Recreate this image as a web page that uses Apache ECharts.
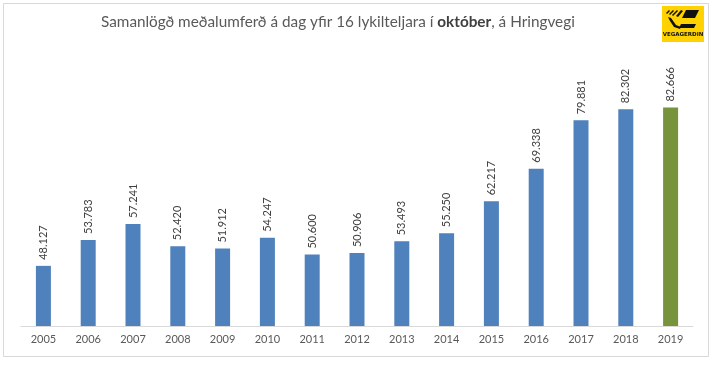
<!DOCTYPE html>
<html>
<head>
<meta charset="utf-8">
<script src="https://cdn.jsdelivr.net/npm/echarts@6/dist/echarts.min.js"></script>
<style>html,body{margin:0;padding:0;background:#fff;}#c{width:713px;height:366px;}</style>
</head>
<body>
<div id="c"></div>
<script>
var years = ['2005','2006','2007','2008','2009','2010','2011','2012','2013','2014','2015','2016','2017','2018','2019'];
var traffic = [48127, 53783, 57241, 52420, 51912, 54247, 50600, 50906, 53493, 55250, 62217, 69338, 79881, 82302, 82666];
var highlightYear = '2019';

var FONT = 'Lato';
function fmt(v) { return String(v).replace(/\B(?=(\d{3})+(?!\d))/g, '.'); }

var chart = echarts.init(document.getElementById('c'), null, {renderer: 'canvas'});
chart.setOption({
  animation: false,
  backgroundColor: '#ffffff',
  title: {
    text: '{a|Samanlögð meðalumferð á dag yfir 16 lykilteljara í }{b|október}{a|, á Hringvegi}',
    left: 96, top: 10,
    textStyle: {
      fontWeight: 'normal', fontFamily: FONT, fontSize: 15.3, color: '#595959',
      rich: {
        a: {fontFamily: FONT, fontSize: 15.3, color: '#595959', fontWeight: 'normal'},
        b: {fontFamily: FONT, fontSize: 15.3, color: '#404040', fontWeight: 'bold'}
      }
    }
  },
  grid: {left: 21, right: 20, top: 74, bottom: 40},
  xAxis: {
    type: 'category', data: years,
    axisLine: {lineStyle: {color: '#d9d9d9'}},
    axisTick: {show: false},
    axisLabel: {color: '#595959', fontFamily: FONT, fontSize: 11, margin: 8}
  },
  yAxis: {type: 'value', min: 35000, max: 90000, show: false, splitLine: {show: false}},
  series: [{
    type: 'bar', barWidth: 15,
    data: traffic.map(function (v, i) {
      return years[i] === highlightYear ? {value: v, itemStyle: {color: '#77933C'}} : v;
    }),
    itemStyle: {color: '#4F81BD'},
    label: {
      show: true, position: 'top', rotate: 90, align: 'left', verticalAlign: 'middle', distance: 6,
      color: '#404040', fontFamily: FONT, fontSize: 11,
      formatter: function (p) { return fmt(p.value); }
    }
  }],
  graphic: [
    {type: 'rect', shape: {x: 3.5, y: 3.5, width: 705, height: 353}, style: {fill: 'none', stroke: '#d9d9d9', lineWidth: 1}, silent: true, z: -1},
    {type: 'group', left: 662, top: 6, children: [
      {type: 'rect', shape: {x: 0, y: 0, width: 42, height: 36}, style: {fill: '#FFD200'}},
      {type: 'polygon', shape: {points: [[4,7],[7,4],[8,5],[5,8]]}, style: {fill: '#111'}},
      {type: 'polygon', shape: {points: [[7,8],[11,4],[12,5],[8,9]]}, style: {fill: '#111'}},
      {type: 'polygon', shape: {points: [[10,9],[15,4],[16,5],[11,10]]}, style: {fill: '#111'}},
      {type: 'polygon', shape: {points: [[14,10],[19,4],[21,5],[16,11]]}, style: {fill: '#111'}},
      {type: 'polygon', shape: {points: [[24,4],[37,4],[33,12],[20,12]]}, style: {fill: '#111'}},
      {type: 'polygon', shape: {points: [[6,11],[9,12],[14,19],[19,21],[18,23],[12,21],[8,15]]}, style: {fill: '#111'}},
      {type: 'polygon', shape: {points: [[19,18],[34,18],[32,22],[17,22]]}, style: {fill: '#111'}},
      {type: 'text', style: {x: 21, y: 29, text: 'VEGAGERÐIN', fill: '#111', font: 'bold 5.5px "DejaVu Sans"', textAlign: 'center', textVerticalAlign: 'middle'}}
    ]}
  ]
});
</script>
</body>
</html>
